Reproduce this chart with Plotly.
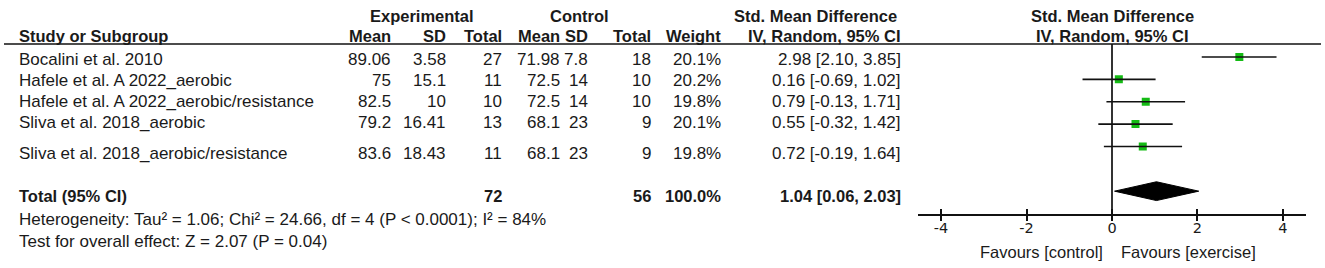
import plotly.graph_objects as go

# ---------------- data ----------------
studies = ["Bocalini et al. 2010", "Hafele et al. A 2022_aerobic",
           "Hafele et al. A 2022_aerobic/resistance", "Sliva et al. 2018_aerobic",
           "Sliva et al. 2018_aerobic/resistance"]
exp_mean = [89.06, 75, 82.5, 79.2, 83.6]
exp_sd = [3.58, 15.1, 10, 16.41, 18.43]
exp_n = [27, 11, 10, 13, 11]
ctl_mean = [71.98, 72.5, 72.5, 68.1, 68.1]
ctl_sd = [7.8, 14, 14, 23, 23]
ctl_n = [18, 10, 10, 9, 9]
weight = [20.1, 20.2, 19.8, 20.1, 19.8]
smd = [2.98, 0.16, 0.79, 0.55, 0.72]
ci_lo = [2.10, -0.69, -0.13, -0.32, -0.19]
ci_hi = [3.85, 1.02, 1.71, 1.42, 1.64]

total_label = "Total (95% CI)"
total_exp_n = 72
total_ctl_n = 56
total_weight = 100.0
total_smd = 1.04
total_lo = 0.06
total_hi = 2.03

heterogeneity = "Heterogeneity: Tau² = 1.06; Chi² = 24.66, df = 4 (P < 0.0001); I² = 84%"
overall = "Test for overall effect: Z = 2.07 (P = 0.04)"
tick_vals = [-4, -2, 0, 2, 4]
tick_text = ["-4", "-2", "0", "2", "4"]
fav_left = "Favours [control]"
fav_right = "Favours [exercise]"

# ---------------- layout constants ----------------
W, H = 1325, 268
FONT = "Liberation Sans, Arial, sans-serif"
FS = 17
FSB = 16.5
TXT = "#1a1a1a"
GREEN = "#14bb14"

rows = list(range(len(studies)))
total_row = 6
y_top_px, y_bot_px = 44, 213.5
x_left_px, x_right_px = 918, 1306

text_rows_px = [60, 80.5, 101.5, 123, 153]
total_text_px = 195.5


def px(x):
    return x / W


def py(y):
    return 1 - y / H


annotations = []


def ann(text, x, y, anchor="right", bold=False, size=None):
    if size is None:
        size = FSB if bold else FS
    if bold:
        text = "<b>" + text + "</b>"
    annotations.append(dict(text=text, x=px(x), y=py(y), xref="paper", yref="paper",
                            xanchor=anchor, yanchor="middle", showarrow=False,
                            font=dict(family=FONT, size=size, color=TXT)))


def fmt(v):
    return f"{v:g}"


# headers
ann("Experimental", 422, 16.5, "center", True)
ann("Control", 579, 16.5, "center", True)
ann("Std. Mean Difference", 815, 16.5, "center", True)
ann("Std. Mean Difference", 1112, 16.5, "center", True)
hy = 36
ann("Study or Subgroup", 17, hy, "left", True)
ann("Mean", 393, hy, "right", True)
ann("SD", 448, hy, "right", True)
ann("Total", 504, hy, "right", True)
ann("Mean", 562, hy, "right", True)
ann("SD", 590, hy, "right", True)
ann("Total", 653, hy, "right", True)
ann("Weight", 723, hy, "right", True)
ann("IV, Random, 95% CI", 903, hy, "right", True)
ann("IV, Random, 95% CI", 1112, hy, "center", True)

for i, name in enumerate(studies):
    y = text_rows_px[i]
    ann(name, 17, y, "left")
    ann(fmt(exp_mean[i]), 393, y)
    ann(fmt(exp_sd[i]), 448, y)
    ann(str(exp_n[i]), 504, y)
    ann(fmt(ctl_mean[i]), 562, y)
    ann(fmt(ctl_sd[i]), 590, y)
    ann(str(ctl_n[i]), 653, y)
    ann(f"{weight[i]:.1f}%", 723, y)
    ann(f"{smd[i]:.2f} [{ci_lo[i]:.2f}, {ci_hi[i]:.2f}]", 903, y)

ann(total_label, 17, total_text_px, "left", True)
ann(str(total_exp_n), 504, total_text_px, "right", True)
ann(str(total_ctl_n), 653, total_text_px, "right", True)
ann(f"{total_weight:.1f}%", 723, total_text_px, "right", True)
ann(f"{total_smd:.2f} [{total_lo:.2f}, {total_hi:.2f}]", 903, total_text_px, "right", True)
ann(heterogeneity, 17, 219.5, "left")
ann(overall, 17, 241, "left")
ann(fav_left, 1105, 252, "right", size=16.5)
ann(fav_right, 1119, 252, "left", size=16.5)

# ---------------- traces ----------------
fig = go.Figure()

ci_x, ci_y = [], []
for i in rows:
    ci_x += [ci_lo[i], ci_hi[i], None]
    ci_y += [i, i, None]
fig.add_trace(go.Scatter(x=ci_x, y=ci_y, mode="lines", xaxis="x2", yaxis="y",
                         line=dict(color="#111111", width=1.6), hoverinfo="skip"))

fig.add_trace(go.Scatter(x=smd, y=rows, mode="markers",
                         marker=dict(symbol="square", size=8, color=GREEN,
                                     line=dict(width=0)),
                         hoverinfo="skip"))

half = 0.42
fig.add_trace(go.Scatter(x=[total_lo, total_smd, total_hi, total_smd, total_lo],
                         y=[total_row, total_row - half, total_row, total_row + half, total_row],
                         mode="lines", fill="toself", fillcolor="#000000",
                         line=dict(color="#000000", width=1), hoverinfo="skip"))

# y range: top of plot area at header line, bottom at axis line
row_px = 22.36
y_top_val = -(57 - y_top_px) / row_px
y_bot_val = (y_bot_px - 57) / row_px

xdom = [px(x_left_px), px(x_right_px)]
xr = [-4.54, 4.54]

fig.update_layout(
    width=W, height=H,
    margin=dict(l=0, r=0, t=0, b=0),
    paper_bgcolor="white", plot_bgcolor="white",
    showlegend=False,
    xaxis=dict(domain=xdom, range=xr, anchor="y",
               showline=True, linecolor="#111111", linewidth=1.6,
               ticks="outside", ticklen=6, tickwidth=1.6, tickcolor="#111111",
               tickvals=tick_vals, showticklabels=False,
               showgrid=False, zeroline=True, zerolinecolor="#333333", zerolinewidth=1.6,
               fixedrange=True),
    xaxis2=dict(domain=xdom, range=xr, overlaying="x", matches="x", anchor="y", side="bottom",
                showline=False, ticks="inside", ticklen=5, tickwidth=1.6, tickcolor="#111111",
                tickvals=tick_vals, ticktext=tick_text, showticklabels=True,
                ticklabelstandoff=4,
                tickfont=dict(family="DejaVu Sans, sans-serif", size=14.5, color=TXT),
                showgrid=False, zeroline=False),
    yaxis=dict(domain=[py(y_bot_px), py(y_top_px)], range=[y_bot_val, y_top_val],
               visible=False, showgrid=False, zeroline=False, fixedrange=True),
    annotations=annotations,
    shapes=[dict(type="line", xref="paper", yref="paper", x0=px(4), x1=px(1321),
                 y0=py(y_top_px), y1=py(y_top_px), line=dict(color="#111111", width=1.4))],
)

fig.write_html("out.html", config={"displayModeBar": False},
               post_script="document.body.style.margin='0px';document.body.style.overflow='hidden';")
